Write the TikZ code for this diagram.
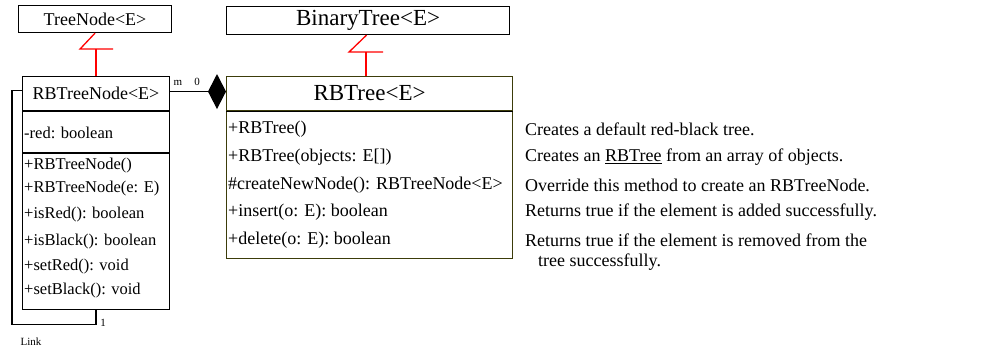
\documentclass[tikz,border=0pt]{standalone}
\usepackage{fontspec}
\setmainfont{Liberation Serif}
\usepackage{xcolor}
\usepackage{tikz}
\usetikzlibrary{
  arrows.meta,
  positioning
}
\definecolor{boxolive}{RGB}{60,60,10}

\begin{document}
\begin{tikzpicture}[
  x=1pt, y=-1pt,
  font=\fontsize{18}{21}\selectfont,
  classbox/.style={draw=black, line width=1.1pt, inner sep=0pt, anchor=north west},
  partbox/.style={draw=black, line width=1.1pt, inner sep=0pt, anchor=north},
  titlemid/.style={font=\fontsize{18}{21}\selectfont},
  titlebig/.style={font=\fontsize{23}{26}\selectfont},
  member/.style={anchor=west, inner sep=0pt},
  smallmember/.style={member, font=\fontsize{16.5}{19}\selectfont},
  note/.style={anchor=west, inner sep=0pt},
  tag/.style={font=\fontsize{11}{13}\selectfont, inner sep=0pt},
  inherit/.style={draw=red, line width=1.3pt},
  assoc/.style={draw=black, line width=1.2pt},
  composite/.style={assoc, -{Diamond[length=18pt, width=35pt]}}
]
\useasboundingbox (0,0) rectangle (985,348);

% ---- super classes ----
\node[classbox, titlemid, minimum width=153pt, minimum height=27pt] (treenode) at (18,5) {TreeNode<E>};
\node[classbox, titlebig, minimum width=283pt, minimum height=28pt] (binarytree) at (226,6) {BinaryTree<E>};

% ---- RBTreeNode<E> ----
\node[classbox, titlemid, minimum width=147pt, minimum height=34pt] (rbnodename) at (22,76) {RBTreeNode<E>};
\node[partbox, minimum width=147pt, minimum height=41pt, below=0pt of rbnodename] (rbnodeattr) {};
\node[partbox, minimum width=147pt, minimum height=156pt, below=0pt of rbnodeattr] (rbnodemeth) {};
\node[smallmember] (redfield) at (24,133) {-red: boolean};
\node[smallmember] (m1) at (24,166) {+RBTreeNode()};
\node[smallmember] (m2) at (24,189) {+RBTreeNode(e: E)};
\node[smallmember] (m3) at (24,215) {+isRed(): boolean};
\node[smallmember] (m4) at (24,242) {+isBlack(): boolean};
\node[smallmember] (m5) at (24,267) {+setRed(): void};
\node[smallmember] (m6) at (24,291) {+setBlack(): void};

% ---- RBTree<E> ----
\node[classbox, titlebig, draw=boxolive, minimum width=286pt, minimum height=34pt] (rbtreename) at (226,76) {RBTree<E>};
\node[partbox, draw=boxolive, minimum width=286pt, minimum height=147pt, below=0pt of rbtreename] (rbtreemeth) {};
\draw[line width=1.1pt] (rbtreename.south west) -- (rbtreename.south east);
\node[member] (t1) at (228,129) {+RBTree()};
\node[member] (t2) at (228,157) {+RBTree(objects: E[])};
\node[member] (t3) at (228,185) {\#createNewNode(): RBTreeNode<E>};
\node[member] (t4) at (228,212) {+insert(o: E): boolean};
\node[member] (t5) at (228,240) {+delete(o: E): boolean};

% ---- notes ----
\node[note] (n1) at (525,129) {Creates a default red-black tree.};
\node[note] (n2) at (525,157) {Creates an \underline{RBTree} from an array of objects.};
\node[note] (n3) at (525,185) {Override this method to create an RBTreeNode.};
\node[note] (n4) at (525,212) {Returns true if the element is added successfully.};
\node[note] (n5) at (525,240) {Returns true if the element is removed from the};
\node[note] (n6) at (538,262) {tree successfully.};

% ---- inheritance ----
\draw[inherit] (rbnodename.north) -- ++(0,-27) coordinate (tnfoot);
\draw[inherit] ([xshift=17pt]tnfoot) -- ([xshift=-16pt]tnfoot) -- (treenode.south);
\draw[inherit] ([xshift=-3.5pt]rbtreename.north) -- ++(0,-24) coordinate (btfoot);
\draw[inherit] ([xshift=17pt]btfoot) -- ([xshift=-17pt]btfoot) -- ([xshift=-1.5pt]binarytree.south);

% ---- composition ----
\draw[composite] ([yshift=2pt]rbnodename.east) -- ([yshift=2pt]rbtreename.west);
\node[tag] (mult1) at (178,83) {m};
\node[tag] (mult2) at (197,82) {0};

% ---- self link ----
\draw[assoc] ([yshift=3pt]rbnodename.west) -- ++(-10,0) -- ++(0,234) coordinate (linkbot) -| (rbnodemeth.south);
\node[tag] (multl) at (103,323) {1};
\node[tag] (linklabel) at (31,342) {Link};
\end{tikzpicture}
\end{document}
